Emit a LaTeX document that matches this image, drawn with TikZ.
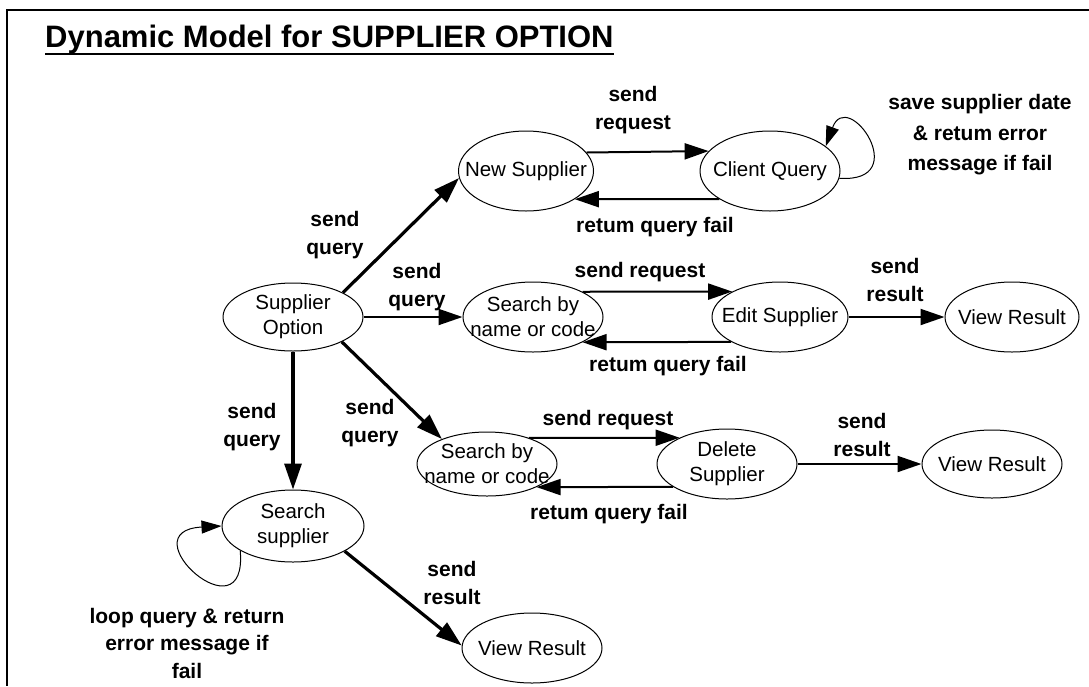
\documentclass[tikz,border=0pt]{standalone}
\usepackage{fontspec}
\setmainfont{Liberation Sans}
\usetikzlibrary{shapes.geometric,arrows.meta}
\begin{document}
\begin{tikzpicture}[x=1pt,y=-1pt,
  st/.style={ellipse,draw,line width=1pt,inner sep=0pt},
  nt/.style={font=\fontsize{20.5}{25}\selectfont,align=center,inner sep=0pt},
  lb/.style={font=\bfseries\fontsize{21}{28}\selectfont,align=center,inner sep=0pt},
  arr/.style={-{Triangle[length=24pt,width=16pt]},line width=2pt},
  tarr/.style={-{Triangle[length=26pt,width=17pt]},line width=3.2pt},
  larr/.style={-{Triangle[length=20pt,width=13pt]},line width=1pt},
]
\useasboundingbox (0,0) rectangle (1089,686);
% frame
\draw[line width=1.2pt] (1089,10) -- (7,10) -- (7,686);
% title
\node[anchor=base west,inner sep=0pt,font=\bfseries\fontsize{31}{36}\selectfont] (title) at (45,47) {Dynamic Model for SUPPLIER OPTION};
\draw[line width=2pt] ([yshift=-7pt]title.base west) -- ([yshift=-7pt]title.base east);

% states
\node[st,minimum width=140pt,minimum height=68pt,label={[nt]center:Supplier\\Option}] (so) at (293,317) {};
\node[st,minimum width=135pt,minimum height=80pt,label={[nt]center:New Supplier}] (ns) at (526,171) {};
\node[st,minimum width=140pt,minimum height=80pt,label={[nt]center:Client Query}] (cq) at (770,171) {};
\node[st,minimum width=140pt,minimum height=70pt,label={[nt]center:Search by\\name or code}] (s1) at (533,317) {};
\node[st,minimum width=136pt,minimum height=70pt,label={[nt]center:Edit Supplier}] (ed) at (780,317) {};
\node[st,minimum width=134pt,minimum height=70pt,label={[nt]center:View Result}] (v1) at (1012,317) {};
\node[st,minimum width=140pt,minimum height=64pt,label={[nt]center:Search by\\name or code}] (s2) at (487,464) {};
\node[st,minimum width=140pt,minimum height=70pt,label={[nt]center:Delete\\Supplier}] (de) at (727,464) {};
\node[st,minimum width=140pt,minimum height=68pt,label={[nt]center:View Result}] (v2) at (992,464) {};
\node[st,minimum width=142pt,minimum height=72pt,label={[nt]center:Search\\supplier}] (ss) at (293,526) {};
\node[st,minimum width=140pt,minimum height=70pt,label={[nt]center:View Result}] (v3) at (532,648) {};

% connectors
\draw[tarr] (so.26) -- (ns.186);
\draw[arr] (ns.17.74) -- (cq.162.86);
\draw[arr] (cq.209.25) -- (ns.-30.15);
\draw[larr] (cq.-6) .. controls +(75,5) and +(22,-60) .. (cq.24);
\draw[arr] (so.east) -- (s1.west);
\draw[arr] (s1.27.03) -- (ed.152.3);
\draw[arr] (ed.207.7) -- (s1.-27.03);
\draw[arr] (ed.east) -- (v1.west);
\draw[tarr] (so.-27.5) -- (s2.151.6);
\draw[arr] (s2.32.5) -- (de.151);
\draw[arr] (de.203.5) -- (s2.-25.3);
\draw[arr] (de.east) -- (v2.west);
\draw[tarr] (so.south) -- (ss.north);
\draw[larr] (ss.205.6) .. controls +(8,90) and +(-95,5) .. (ss.west);
\draw[tarr] (ss.334.8) -- (v3.178);

% labels
\node[lb] (l1) at (633,110) {send\\request};
\node[lb] (l2) at (655,227) {retum query fail};
\node[lb] (l3) at (335,235) {send\\query};
\node[lb,font=\bfseries\fontsize{21}{30.5}\selectfont] (l4) at (980,135) {save supplier date\\\& retum error\\message if fail};
\node[lb] (l5) at (417,287) {send\\query};
\node[lb] (l6) at (640,272) {send request};
\node[lb] (l7) at (668,366) {retum query fail};
\node[lb] (l8) at (895,280) {send\\result};
\node[lb] (l9) at (370,423) {send\\query};
\node[lb] (l10) at (608,420) {send request};
\node[lb] (l11) at (609,514) {retum query fail};
\node[lb] (l12) at (862,435) {send\\result};
\node[lb] (l13) at (252,427) {send\\query};
\node[lb,font=\bfseries\fontsize{21}{27.5}\selectfont] (l14) at (187,643) {loop query \& return\\error message if\\fail};
\node[lb] (l15) at (452,583) {send\\result};
\end{tikzpicture}
\end{document}
